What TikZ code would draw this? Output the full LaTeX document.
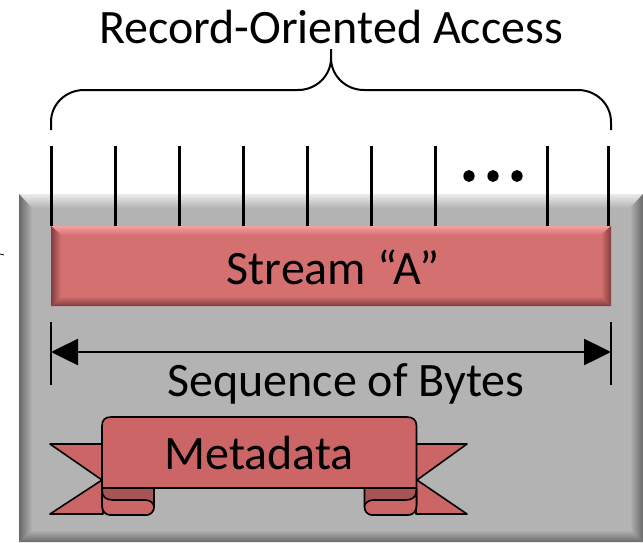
\documentclass[tikz,border=0pt]{standalone}
\usepackage{fontspec}
\setmainfont{Carlito}
\usetikzlibrary{arrows.meta}
\definecolor{boxgray}{RGB}{179,179,179}
\definecolor{boxlight}{RGB}{235,235,235}
\definecolor{boxdark}{RGB}{105,105,105}
\definecolor{barface}{RGB}{213,112,112}
\definecolor{barlight}{RGB}{245,160,160}
\definecolor{bardark}{RGB}{130,60,60}
\definecolor{ribbon}{RGB}{204,102,102}
\definecolor{ribbondark}{RGB}{166,84,84}
\tikzset{
  bigtext/.style={font=\fontsize{48}{58}\selectfont, inner sep=0pt, anchor=base},
  tickline/.style={line width=3pt},
  ribbonline/.style={draw=black, line width=1.6pt, line join=round},
}
\begin{document}
\begin{tikzpicture}[x=1pt,y=-1pt]
\useasboundingbox (0,0) rectangle (643,542);
% gray box with bevel
\fill[boxgray] (19,194) rectangle (643,542);
\shade[top color=boxlight, bottom color=boxgray] (19,194) -- (643,194) -- (630,208) -- (32,208) -- cycle;
\shade[left color=boxdark, right color=boxgray] (19,194) -- (32,208) -- (32,530) -- (19,542) -- cycle;
\shade[left color=boxgray, right color=boxdark] (643,194) -- (630,208) -- (630,530) -- (643,542) -- cycle;
\shade[top color=boxgray, bottom color=boxdark] (19,542) -- (32,530) -- (630,530) -- (643,542) -- cycle;
% small mark at left edge
\draw[line width=0.8pt] (0,254) -- (4,255);
% red bar with bevel
\fill[barface] (51,226) rectangle (611,306);
\shade[top color=barlight, bottom color=barface] (51,226) -- (611,226) -- (601,235) -- (61,235) -- cycle;
\shade[left color=bardark, right color=barface] (51,226) -- (61,235) -- (61,296) -- (51,306) -- cycle;
\shade[left color=barface, right color=bardark] (611,226) -- (601,235) -- (601,296) -- (611,306) -- cycle;
\shade[top color=barface, bottom color=bardark] (51,306) -- (61,296) -- (601,296) -- (611,306) -- cycle;
\node[bigtext] (stream) at (333,284) {Stream “A”};
% ticks
\foreach \x [count=\i] in {51,115,179,243,307,371,435,547,608} {
  \coordinate (tt\i) at (\x,146);
  \coordinate (tb\i) at (\x,226);
  \draw[tickline] (tt\i) -- (tb\i);
}
\foreach \x in {469,493,517} \fill (\x,176) ellipse (5.6 and 6);
% brace
\coordinate (bl) at (51,130);
\coordinate (br) at (611,130);
\coordinate (btip) at (331,49);
\draw[line width=2pt] (bl) -- (51,122) .. controls (51,104) and (66,90) .. (84,90) -- (298,90) .. controls (316,90) and (331,76) .. (331,58) -- (btip)
  -- (331,58) .. controls (331,76) and (346,90) .. (364,90) -- (578,90) .. controls (596,90) and (611,104) .. (611,122) -- (br);
\node[bigtext] (title) at (331,43) {Record-Oriented Access};
% sequence arrow
\coordinate (al) at (51,352);
\coordinate (ar) at (611,352);
\draw[line width=2pt] (51,322) -- (51,385);
\draw[line width=2pt] (611,322) -- (611,385);
\draw[line width=2.5pt, {Triangle[length=27pt,width=26pt]}-{Triangle[length=27pt,width=26pt]}] (al) -- (ar);
\node[bigtext] (seq) at (346,396) {Sequence of Bytes};
% banner tails
\filldraw[fill=ribbon, ribbonline] (50,444) -- (103,444) -- (103,514) -- (50,514) -- (102,480) -- cycle;
\filldraw[fill=ribbon, ribbonline] (467,444) -- (416,444) -- (416,514) -- (467,514) -- (417,480) -- cycle;
% left curl
\filldraw[fill=ribbondark, ribbonline] (102,488) -- (102,505) .. controls (102,511) and (105,515) .. (111,515) -- (146,515) .. controls (151,515) and (154,511) .. (154,506) -- (154,488) -- cycle;
\filldraw[fill=ribbon, ribbonline] (102,490) .. controls (102,497) and (106,500) .. (113,500) -- (145,500) .. controls (150,500) and (154,503) .. (154,507) .. controls (154,511) and (151,515) .. (146,515) -- (111,515) .. controls (105,515) and (102,511) .. (102,505) -- cycle;
% right curl
\filldraw[fill=ribbondark, ribbonline] (416.5,488) -- (416.5,505) .. controls (416.5,511) and (413.5,515) .. (407.5,515) -- (372.5,515) .. controls (367.5,515) and (364.5,511) .. (364.5,506) -- (364.5,488) -- cycle;
\filldraw[fill=ribbon, ribbonline] (416.5,490) .. controls (416.5,497) and (412.5,500) .. (405.5,500) -- (373.5,500) .. controls (368.5,500) and (364.5,503) .. (364.5,507) .. controls (364.5,511) and (367.5,515) .. (372.5,515) -- (407.5,515) .. controls (413.5,515) and (416.5,511) .. (416.5,505) -- cycle;
% banner body
\filldraw[fill=ribbon, ribbonline] (102,488) -- (102,426) .. controls (102,420) and (105,417) .. (111,417) -- (407,417) .. controls (413,417) and (416.5,420) .. (416.5,426) -- (416.5,488) -- cycle;
\node[bigtext] (meta) at (259,469) {Metadata};
\end{tikzpicture}
\end{document}
